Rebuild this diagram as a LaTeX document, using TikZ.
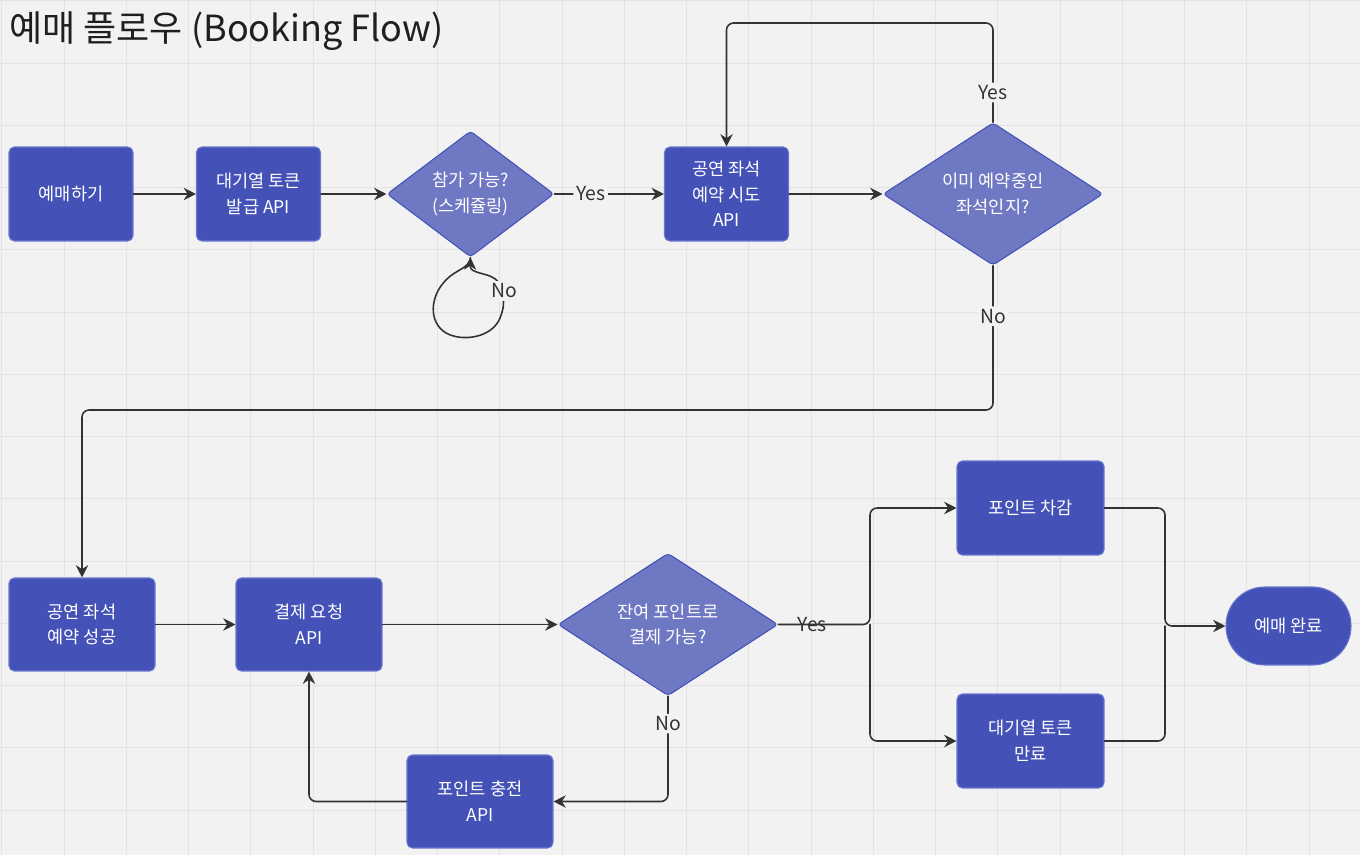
\documentclass[tikz,border=0pt]{standalone}
\usepackage{fontspec}
\setmainfont{Noto Sans CJK KR}
\usepackage{xcolor}
\usetikzlibrary{arrows.meta,shapes.geometric,calc}

\definecolor{canvas}{HTML}{F2F2F2}
\definecolor{gridgray}{HTML}{E3E3E3}
\definecolor{stepblue}{HTML}{4452B8}
\definecolor{stepedge}{HTML}{6A75CC}
\definecolor{askblue}{HTML}{6F78C2}
\definecolor{askedge}{HTML}{4452B8}
\definecolor{flowink}{HTML}{333333}

\tikzset{
  stepbox/.style={rectangle, rounded corners=3pt, fill=stepblue, draw=stepedge, line width=.6pt,
    text=white, align=center, inner sep=0pt, font=\fontsize{10}{14.6}\selectfont},
  askbox/.style={diamond, rounded corners=2pt, fill=askblue, draw=askedge, line width=.6pt,
    text=white, align=center, inner sep=0pt, font=\fontsize{10}{14.6}\selectfont},
  endbox/.style={rectangle, rounded corners=.77cm, fill=stepblue, draw=stepedge, line width=.6pt,
    text=white, align=center, inner sep=0pt, font=\fontsize{10}{14.6}\selectfont},
  flow/.style={draw=flowink, line width=.9pt, -{Stealth[length=7pt,width=7pt]}, rounded corners=4pt},
  tag/.style={fill=canvas, text=flowink, inner sep=1.5pt, font=\fontsize{11}{13}\selectfont},
}

\begin{document}
\begin{tikzpicture}[x=0.02cm, y=-0.02cm, line cap=round, line join=round]
  % Canvas and grid.
  \useasboundingbox (0,0) rectangle (1360,855);
  \fill[canvas] (0,0) rectangle (1360,855);
  \foreach \i in {0,...,21}
    \draw[gridgray, line width=.5pt] ({1.75+62.25*\i},0) -- ({1.75+62.25*\i},855);
  \foreach \j in {0,...,13}
    \draw[gridgray, line width=.5pt] (0,{0.75+62.25*\j}) -- (1360,{0.75+62.25*\j});

  \node[anchor=base west, text=black!88, inner sep=0pt, font=\fontsize{20.5}{22}\selectfont] (title) at (9,42) {예매 플로우 (Booking Flow)};

  % Upper row: queue and seat hold.
  \node[stepbox, minimum width=2.48cm, minimum height=1.88cm] (book) at (71,194) {예매하기};
  \node[stepbox, minimum width=2.48cm, minimum height=1.88cm] (ticket) at (258.5,194) {대기열 토큰\\발급 API};
  \node[askbox, minimum width=3.34cm, minimum height=2.52cm] (canjoin) at (470.5,194) {참가 가능?\\(스케쥴링)};
  \node[stepbox, minimum width=2.48cm, minimum height=1.88cm] (tryseat) at (726.5,194) {공연 좌석\\예약 시도\\API};
  \node[askbox, minimum width=4.4cm, minimum height=2.76cm] (taken) at (993,194) {이미 예약중인\\좌석인지?};

  % Lower row: payment.
  \node[stepbox, minimum width=2.92cm, minimum height=1.86cm] (seatok) at (82,624.5) {공연 좌석\\예약 성공};
  \node[stepbox, minimum width=2.92cm, minimum height=1.86cm] (payreq) at (309,624.5) {결제 요청\\API};
  \node[askbox, minimum width=4.4cm, minimum height=2.78cm] (canpay) at (668,624.5) {잔여 포인트로\\결제 가능?};
  \node[stepbox, minimum width=2.94cm, minimum height=1.88cm] (usepoint) at (1030.5,508) {포인트 차감};
  \node[stepbox, minimum width=2.94cm, minimum height=1.88cm] (expire) at (1030.5,741) {대기열 토큰\\만료};
  \node[endbox, minimum width=2.5cm, minimum height=1.56cm] (done) at (1288.5,626) {예매 완료};
  \node[stepbox, minimum width=2.92cm, minimum height=1.86cm] (recharge) at (480,801.5) {포인트 충전\\API};

  % Bend points.
  \coordinate (seattop) at (860,23);
  \coordinate (seatdrop) at (500,410);
  \coordinate (payfork) at (870,624.5);
  \coordinate (donejoin) at (1165,626);

  % Connectors.
  \draw[flow] (book) -- (ticket);
  \draw[flow] (ticket) -- (canjoin);
  \draw[flow] (canjoin) -- node[tag, pos=.33] {Yes} (tryseat);
  \draw[flow, rounded corners=0pt] (canjoin.south)
    .. controls (470,268) and (455,270) .. (446,280)
    .. controls (430,296) and (428,322) .. (446,333)
    .. controls (462,342) and (492,338) .. (500,318)
    .. controls (504,308) and (504,302) .. (503,296)
    .. controls (502,284) and (497,279) .. (490,276)
    .. controls (478,272) and (470,272) .. (canjoin.south);
  \node[tag] (loopno) at (504,291) {No};
  \draw[flow] (tryseat) -- (taken);
  \draw[flow] (taken.north) -- node[tag, pos=.3] {Yes} (taken.north |- seattop) -| (tryseat.north);
  \draw[flow] (taken.south) -- node[tag, pos=.35] {No} (taken.south |- seatdrop) -| (seatok.north);

  \draw[flow] (seatok) -- (payreq);
  \draw[flow] (payreq) -- (canpay);
  \draw[flow] (canpay.east) -- node[text=flowink, inner sep=0pt, pos=.37, font=\fontsize{11}{13}\selectfont] {Yes} (payfork) |- (usepoint.west);
  \draw[flow] (payfork) |- (expire.west);
  \draw[flow] (usepoint.east) -| (donejoin) -- (done.west);
  \draw[flow, -] (expire.east) -| (donejoin);
  \draw[flow] (canpay.south) |- node[tag, pos=.13] {No} (recharge.east);
  \draw[flow] (recharge.west) -| (payreq.south);
\end{tikzpicture}
\end{document}
